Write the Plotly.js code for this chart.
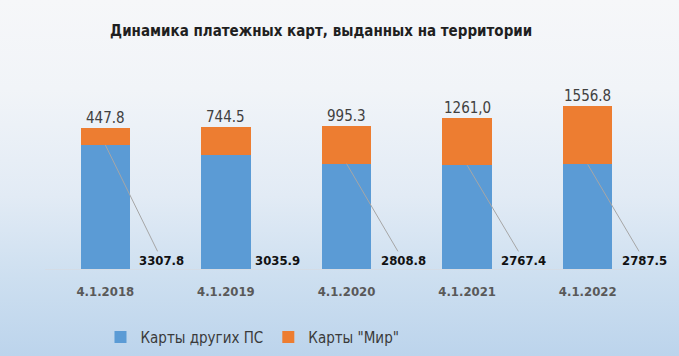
<!DOCTYPE html>
<html>
<head>
<meta charset="utf-8">
<script src="https://cdn.plot.ly/plotly-3.0.1.min.js"></script>
<style>
  html, body { margin: 0; padding: 0; }
  body { width: 679px; height: 356px; overflow: hidden;
    background: linear-gradient(to bottom, #f6f7f9 0%, #f1f4f8 25%, #e2ebf5 55%, #cddff0 78%, #bcd4ec 100%); }
  #chart { width: 679px; height: 356px; }
</style>
</head>
<body>
<div id="chart"></div>
<script>
// ---- data ----
const categories = ['4.1.2018', '4.1.2019', '4.1.2020', '4.1.2021', '4.1.2022'];
const otherCards = [3307.8, 3035.9, 2808.8, 2767.4, 2787.5];
const mirCards = [447.8, 744.5, 995.3, 1261.0, 1556.8];
const otherLabels = ['3307.8', '3035.9', '2808.8', '2767.4', '2787.5'];
const mirLabels = ['447.8', '744.5', '995.3', '1261,0', '1556.8'];
const seriesNames = ['Карты других ПС', 'Карты "Мир"'];
const titleText = 'Динамика платежных карт, выданных на территории';
const otherLeader = [true, false, true, true, true];

const FONT = '"DejaVu Sans Condensed", "DejaVu Sans", sans-serif';

const traces = [
  { type: 'bar', name: seriesNames[0], x: categories, y: otherCards,
    marker: { color: '#5b9bd5' }, hoverinfo: 'skip' },
  { type: 'bar', name: seriesNames[1], x: categories, y: mirCards,
    marker: { color: '#ed7d31' }, hoverinfo: 'skip' }
];

const LABEL_Y = 230;   // vertical placement of the blue-series labels (data units, near baseline)
const LABEL_DX = 0.47; // horizontal offset of those labels (categories)

const annotations = [];
categories.forEach((c, i) => {
  const total = otherCards[i] + mirCards[i];
  annotations.push({
    x: i, y: total, xref: 'x', yref: 'y',
    text: mirLabels[i], showarrow: true, arrowhead: 0, arrowwidth: 1,
    arrowcolor: '#a6a6a6', ax: 0, ay: -10, standoff: 0,
    font: { family: FONT, size: 15, color: '#404040' }
  });
  const lab = { xref: 'x', yref: 'y', text: '<b>' + otherLabels[i] + '</b>',
    font: { family: FONT, size: 13, color: '#111111' } };
  if (otherLeader[i]) {
    Object.assign(lab, { x: i, y: otherCards[i], axref: 'x', ayref: 'y',
      ax: i + LABEL_DX, ay: LABEL_Y, showarrow: true, arrowhead: 0, arrowwidth: 1,
      arrowcolor: '#a6a6a6', standoff: 0 });
  } else {
    Object.assign(lab, { x: i + LABEL_DX - 0.04, y: LABEL_Y, showarrow: false });
  }
  annotations.push(lab);
});

const layout = {
  width: 679, height: 356,
  margin: { l: 45, r: 31, t: 60, b: 87 },
  paper_bgcolor: 'rgba(0,0,0,0)',
  plot_bgcolor: 'rgba(0,0,0,0)',
  barmode: 'stack',
  bargap: 0.59,
  showlegend: true,
  title: { text: '<b>' + titleText + '</b>', x: 0.473, xanchor: 'center', y: 0.915, yanchor: 'middle',
    font: { family: FONT, size: 15, color: '#1f1f1f' } },
  xaxis: { type: 'category', range: [-0.5, categories.length - 0.5], automargin: false,
    showgrid: false, zeroline: false, showline: true,
    linecolor: '#d4dce6', linewidth: 1, ticks: '', ticklabelstandoff: 10,
    tickfont: { family: FONT, size: 13, color: '#595959', weight: 'bold' },
    fixedrange: true },
  yaxis: { range: [0, 5570], automargin: false, visible: false, showgrid: false, zeroline: false, fixedrange: true },
  legend: { orientation: 'h', xref: 'container', yref: 'container',
    x: 0.148, xanchor: 'left', y: 0.053, yanchor: 'middle',
    bgcolor: 'rgba(0,0,0,0)', font: { family: FONT, size: 15, color: '#3a3a3a' },
    traceorder: 'normal', itemwidth: 30 },
  annotations: annotations
};

Plotly.newPlot('chart', traces, layout, { displayModeBar: false, staticPlot: true });
</script>
</body>
</html>
